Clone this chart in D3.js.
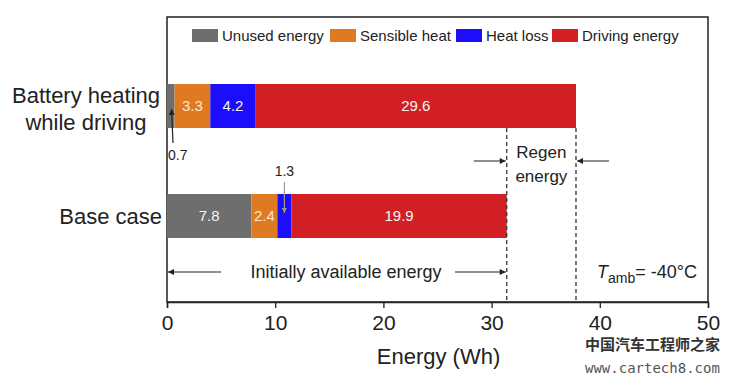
<!DOCTYPE html>
<html><head><meta charset="utf-8">
<script src="https://cdn.jsdelivr.net/npm/d3@7"></script>
<style>body{margin:0;background:#fff}svg{display:block}text{font-family:"Liberation Sans",Arial,sans-serif}</style>
</head><body><svg id="c" width="729" height="383"></svg>
<script>
const categories = ["Battery heating while driving", "Base case"];
const seriesNames = ["Unused energy", "Sensible heat", "Heat loss", "Driving energy"];
const unusedEnergy = [0.7, 7.8];
const sensibleHeat = [3.3, 2.4];
const heatLoss = [4.2, 1.3];
const drivingEnergy = [29.6, 19.9];
const colors = ["#6e6e6e", "#e07a22", "#1c0dfa", "#d11f24"];
const xTicks = [0, 10, 20, 30, 40, 50];

const rows = categories.map((c, i) => ({cat: c, "Unused energy": unusedEnergy[i], "Sensible heat": sensibleHeat[i], "Heat loss": heatLoss[i], "Driving energy": drivingEnergy[i]}));
const stacked = d3.stack().keys(seriesNames)(rows);

const svg = d3.select("#c");
const L = 167, R = 708, T = 17, B = 302;
const x = d3.scaleLinear().domain([0, 50]).range([L, R]);
const y = d3.scaleBand().domain(categories).range([51, 271]).paddingInner(0.6).paddingOuter(0.3);
const color = d3.scaleOrdinal().domain(seriesNames).range(colors);

const defs = svg.append("defs");
defs.append("marker").attr("id", "ah").attr("viewBox", "0 0 10 10").attr("refX", 10).attr("refY", 5)
  .attr("markerWidth", 8).attr("markerHeight", 6).attr("markerUnits", "userSpaceOnUse").attr("orient", "auto")
  .append("path").attr("d", "M0,0L10,5L0,10Z").attr("fill", "#222");
defs.append("marker").attr("id", "ahg").attr("viewBox", "0 0 10 10").attr("refX", 10).attr("refY", 5)
  .attr("markerWidth", 7).attr("markerHeight", 5).attr("markerUnits", "userSpaceOnUse").attr("orient", "auto")
  .append("path").attr("d", "M0,0L10,5L0,10Z").attr("fill", "#999");

// frame
svg.append("rect").attr("x", L).attr("y", T).attr("width", R - L).attr("height", B - T)
  .attr("fill", "none").attr("stroke", "#222").attr("stroke-width", 1.5);

// bars
const g = svg.append("g");
stacked.forEach(s => {
  g.selectAll(null).data(s).join("rect")
    .attr("x", d => x(d[0])).attr("y", d => y(d.data.cat))
    .attr("width", d => x(d[1]) - x(d[0])).attr("height", y.bandwidth())
    .attr("fill", color(s.key));
  g.selectAll(null).data(s.filter(d => d[1] - d[0] >= 2)).join("text")
    .attr("x", d => (x(d[0]) + x(d[1])) / 2).attr("y", d => y(d.data.cat) + y.bandwidth() / 2 + 5)
    .attr("text-anchor", "middle").attr("font-size", 15)
    .attr("fill", s.key === "Sensible heat" ? "#fbe9c8" : "#f4f4f4")
    .text(d => (d[1] - d[0]).toFixed(1));
});

// totals
const totals = rows.map(r => seriesNames.reduce((a, k) => a + r[k], 0));
const yTopBottom = y(categories[0]) + y.bandwidth();
totals.forEach(t => {
  svg.append("line").attr("x1", x(t)).attr("x2", x(t)).attr("y1", yTopBottom).attr("y2", B)
    .attr("stroke", "#333").attr("stroke-width", 1.3).attr("stroke-dasharray", "4,3");
});

// axis
const axis = d3.axisBottom(x).tickValues(xTicks).tickSize(6).tickFormat(d3.format("d"));
const ax = svg.append("g").attr("transform", `translate(0,${B})`).call(axis);
ax.select(".domain").attr("stroke", "#222").attr("stroke-width", 1.5);
ax.selectAll(".tick line").attr("stroke", "#222").attr("stroke-width", 1.3);
ax.selectAll(".tick text").attr("font-size", 21).attr("fill", "#222").attr("dy", "0.9em")
  .style("font-family", "'Liberation Sans',Arial,sans-serif");
svg.append("text").attr("x", x(25) + 1).attr("y", 364).attr("text-anchor", "middle")
  .attr("font-size", 22).attr("fill", "#222").text("Energy (Wh)");

// category labels
const lab = svg.append("g").attr("font-size", 22).attr("fill", "#222");
lab.append("text").attr("x", 86).attr("y", y(categories[0]) + 26).attr("text-anchor", "middle")
  .selectAll("tspan").data(["Battery heating", "while driving"]).join("tspan")
  .attr("x", 86).attr("dy", (d, i) => i === 0 ? "-0.3em" : "1.2em").text(d => d);
lab.append("text").attr("x", 162).attr("y", y(categories[1]) + y.bandwidth() / 2 + 8)
  .attr("text-anchor", "end").text(categories[1]);

// legend
const legX = [192, 330, 456, 552];
const leg = svg.append("g");
seriesNames.forEach((n, i) => {
  leg.append("rect").attr("x", legX[i]).attr("y", 29).attr("width", 26).attr("height", 13).attr("fill", colors[i]);
  leg.append("text").attr("x", legX[i] + 30).attr("y", 41).attr("font-size", 15).attr("fill", "#222").text(n);
});

// callouts
svg.append("line").attr("x1", 173).attr("y1", 143).attr("x2", 171.5).attr("y2", 109)
  .attr("stroke", "#222").attr("stroke-width", 1.2).attr("marker-end", "url(#ah)");
svg.append("text").attr("x", 168).attr("y", 160).attr("font-size", 14).attr("fill", "#222").text(unusedEnergy[0].toFixed(1));
const hlMid = x(unusedEnergy[1] + sensibleHeat[1] + heatLoss[1] / 2);
svg.append("text").attr("x", hlMid).attr("y", 176).attr("text-anchor", "middle").attr("font-size", 14).attr("fill", "#222").text(heatLoss[1].toFixed(1));
svg.append("line").attr("x1", hlMid).attr("y1", 182).attr("x2", hlMid).attr("y2", 213)
  .attr("stroke", "#999").attr("stroke-width", 1.2).attr("marker-end", "url(#ahg)");

// regen
const ry = 161;
svg.append("line").attr("x1", x(totals[1]) - 33).attr("x2", x(totals[1]) - 1).attr("y1", ry).attr("y2", ry)
  .attr("stroke", "#222").attr("stroke-width", 1.2).attr("marker-end", "url(#ah)");
svg.append("line").attr("x1", x(totals[0]) + 33).attr("x2", x(totals[0]) + 1).attr("y1", ry).attr("y2", ry)
  .attr("stroke", "#222").attr("stroke-width", 1.2).attr("marker-end", "url(#ah)");
const rx = (x(totals[0]) + x(totals[1])) / 2;
svg.append("text").attr("x", rx).attr("y", 158).attr("text-anchor", "middle").attr("font-size", 17).attr("fill", "#222").text("Regen");
svg.append("text").attr("x", rx).attr("y", 182).attr("text-anchor", "middle").attr("font-size", 17).attr("fill", "#222").text("energy");

// initially available
const iy = 272;
svg.append("line").attr("x1", 221).attr("x2", x(0) + 1).attr("y1", iy).attr("y2", iy)
  .attr("stroke", "#222").attr("stroke-width", 1.2).attr("marker-end", "url(#ah)");
svg.append("line").attr("x1", 455).attr("x2", x(totals[1]) - 1).attr("y1", iy).attr("y2", iy)
  .attr("stroke", "#222").attr("stroke-width", 1.2).attr("marker-end", "url(#ah)");
svg.append("text").attr("x", 346).attr("y", 278).attr("text-anchor", "middle").attr("font-size", 18).attr("fill", "#222").text("Initially available energy");

// T amb
const tt = svg.append("text").attr("x", 597).attr("y", 278).attr("font-size", 18).attr("fill", "#222");
tt.append("tspan").attr("font-style", "italic").text("T");
tt.append("tspan").attr("font-size", 14).attr("dy", 5).text("amb");
tt.append("tspan").attr("dy", -5).text("= -40°C");

// watermark
svg.append("text").attr("x", 585).attr("y", 350).attr("font-size", 15).attr("fill", "#333")
  .style("font-family", "'Noto Sans CJK SC',sans-serif").attr("font-weight", "bold").text("中国汽车工程师之家");
svg.append("text").attr("x", 585).attr("y", 373).attr("font-size", 14).attr("fill", "#555")
  .style("font-family", "'DejaVu Sans Mono',monospace").text("www.cartech8.com");
</script></body></html>
